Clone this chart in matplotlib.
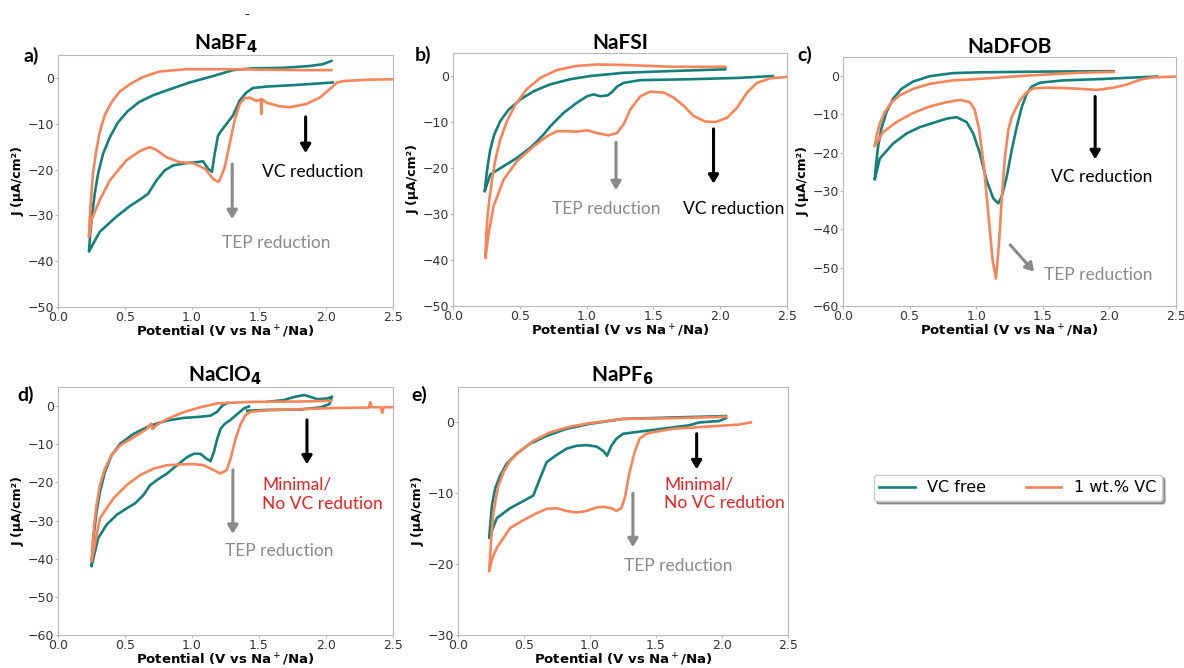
# Cyclic voltammetry of TEP electrolytes with / without VC additive
import numpy as np
import matplotlib.pyplot as plt
from matplotlib.ticker import MultipleLocator

TEAL = '#13807c'
ORANGE = '#f7855a'

# ---- a) NaBF4 ----
a_free_v = [2.05, 1.80, 1.555, 1.455, 1.405, 1.355, 1.306, 1.256, 1.219, 1.194, 1.169, 1.149, 1.119, 1.082,
            1.032, 0.958, 0.858, 0.796, 0.734, 0.672, 0.609, 0.535, 0.435, 0.311, 0.231,
            0.241, 0.256, 0.274, 0.299, 0.336, 0.386, 0.448, 0.522, 0.609, 0.709, 0.833, 0.983, 1.157, 1.306,
            1.455, 1.679, 1.878, 1.978, 2.040]
a_free_j = [-1.0, -1.5, -1.9, -2.2, -3.2, -5.0, -8.2, -10.1, -11.5, -12.6, -16.6, -20.5, -19.8, -18.2,
            -18.4, -18.6, -19.1, -20.2, -22.4, -25.3, -26.6, -28.0, -30.3, -33.6, -37.9,
            -33.9, -29.6, -25.3, -20.9, -16.6, -13.0, -9.7, -7.2, -5.2, -3.8, -2.5, -1.0, 0.4, 1.7,
            2.1, 2.2, 2.6, 3.0, 3.7]
a_vc_v = [2.5, 2.30, 2.127, 2.082, 2.027, 1.953, 1.853, 1.729, 1.654, 1.555, 1.530, 1.520, 1.517, 1.514, 1.480,
          1.430, 1.393, 1.356, 1.318, 1.281, 1.244, 1.206, 1.194, 1.157, 1.095, 1.007, 0.908, 0.808, 0.734,
          0.684, 0.609, 0.510, 0.386, 0.311, 0.249, 0.231,
          0.236, 0.246, 0.261, 0.286, 0.311, 0.348, 0.398, 0.460, 0.535, 0.634, 0.759, 0.958, 1.306, 1.803, 2.040]
a_vc_j = [-0.3, -0.4, -0.7, -1.0, -2.5, -4.3, -5.7, -6.4, -6.2, -5.4, -4.8, -4.6, -7.9, -4.7, -5.0,
          -4.3, -4.4, -5.7, -9.3, -14.4, -19.5, -22.4, -22.7, -22.0, -19.8, -18.6, -18.4, -17.3, -15.7,
          -15.1, -16.0, -18.0, -22.4, -26.7, -31.0, -34.7,
          -31.0, -26.7, -20.9, -15.8, -11.9, -8.2, -5.4, -3.0, -1.4, 0.2, 1.4, 1.9, 1.9, 1.7, 1.7]

# ---- b) NaFSI ----
b_free_v = [2.395, 2.151, 1.776, 1.402, 1.277, 1.228, 1.190, 1.158, 1.103, 1.053, 1.003, 0.928, 0.828, 0.729,
            0.679, 0.629, 0.579, 0.479, 0.379, 0.279, 0.237,
            0.247, 0.259, 0.279, 0.309, 0.354, 0.417, 0.504, 0.604, 0.729, 0.878, 1.028, 1.277, 1.652, 2.038]
b_free_j = [0.0, -0.4, -0.7, -0.9, -1.5, -2.3, -3.5, -4.2, -4.4, -4.0, -4.4, -5.8, -8.0, -10.9,
            -12.7, -14.2, -15.6, -17.8, -19.6, -21.4, -25.1,
            -22.5, -19.6, -16.0, -12.7, -9.8, -7.3, -5.1, -3.3, -1.8, -0.7, 0.0, 0.7, 1.1, 1.45]
b_vc_v = [2.5, 2.375, 2.275, 2.201, 2.126, 2.051, 1.964, 1.889, 1.801, 1.727, 1.652, 1.577, 1.477, 1.402,
          1.327, 1.277, 1.228, 1.165, 1.078, 1.003, 0.928, 0.853, 0.778, 0.704, 0.604, 0.479, 0.379, 0.304,
          0.267, 0.242,
          0.249, 0.259, 0.272, 0.292, 0.317, 0.354, 0.404, 0.467, 0.554, 0.654, 0.778, 0.928, 1.078, 1.277,
          1.652, 2.038]
b_vc_j = [-0.2, -0.5, -1.5, -3.6, -6.9, -9.1, -10.0, -9.9, -8.7, -6.5, -4.7, -3.6, -3.4, -4.4,
          -7.3, -10.5, -12.4, -12.9, -12.4, -11.8, -12.1, -12.0, -12.0, -13.1, -15.3, -18.5, -22.5, -28.3,
          -34.2, -39.6,
          -34.2, -30.5, -26.9, -22.5, -18.2, -13.8, -9.8, -6.2, -2.8, -0.4, 1.3, 2.2, 2.5, 2.4,
          2.0, 2.0]

# ---- c) NaDFOB ----
c_free_v = [2.357, 2.157, 1.906, 1.655, 1.479, 1.417, 1.379, 1.342, 1.304, 1.266, 1.229, 1.191, 1.166, 1.128,
            1.078, 1.028, 0.978, 0.928, 0.853, 0.777, 0.677, 0.577, 0.476, 0.376, 0.276, 0.238,
            0.246, 0.263, 0.288, 0.326, 0.376, 0.439, 0.527, 0.652, 0.827, 1.028, 1.530, 2.031]
c_free_j = [-0.1, -0.4, -0.8, -1.1, -1.7, -2.7, -4.6, -8.1, -13.3, -19.4, -26.3, -31.5, -33.2, -31.9,
            -27.2, -20.2, -15.0, -12.0, -10.7, -11.1, -12.2, -13.3, -15.0, -17.6, -21.5, -27.0,
            -23.7, -18.5, -13.7, -9.4, -5.9, -3.3, -1.4, 0.0, 0.8, 1.0, 1.2, 1.3]
c_vc_v = [2.5, 2.332, 2.232, 2.131, 2.031, 1.906, 1.780, 1.655, 1.530, 1.429, 1.379, 1.329, 1.291, 1.266,
          1.241, 1.216, 1.191, 1.171, 1.148, 1.123, 1.091, 1.058, 1.023, 0.990, 0.953, 0.878, 0.777, 0.652,
          0.527, 0.401, 0.301, 0.238,
          0.256, 0.276, 0.313, 0.364, 0.426, 0.527, 0.652, 0.827, 1.028, 1.404, 1.780, 2.031]
c_vc_j = [-0.1, -0.3, -0.9, -2.2, -3.0, -3.6, -3.3, -3.1, -3.0, -3.2, -4.2, -6.3, -8.9, -10.7,
          -14.1, -21.1, -32.4, -43.7, -52.8, -48.0, -35.9, -23.7, -14.1, -8.9, -6.8, -6.2, -6.8, -7.9,
          -9.6, -12.0, -14.6, -18.3,
          -15.0, -12.4, -9.4, -6.8, -5.0, -3.3, -2.0, -1.1, -0.7, 0.2, 0.9, 1.1]

# ---- d) NaClO4 ---- (VC free trace is recorded in two pieces, nan = gap)
d_free_v = [1.425, 1.388, 1.338, 1.288, 1.243, 1.213, 1.188, 1.163, 1.138, 1.108, 1.063, 1.013, 0.963, 0.888,
            0.813, 0.738, 0.688, 0.638, 0.575, 0.513, 0.438, 0.363, 0.300, 0.250,
            0.258, 0.270, 0.288, 0.313, 0.350, 0.400, 0.463, 0.563, 0.688, 0.813, 0.938, 1.063, 1.138, 1.188,
            1.225, 1.263,
            np.nan,
            1.413, 1.563, 1.813, 1.963, 2.025, 2.045, 2.013, 1.938, 1.838, 1.763, 1.688, 1.563]
d_free_j = [-0.1, -0.6, -2.1, -3.6, -4.7, -6.0, -8.6, -12.1, -14.4, -13.8, -12.5, -12.5, -13.4, -15.5,
            -17.7, -19.4, -20.7, -23.3, -25.5, -26.8, -28.5, -31.1, -34.6, -42.0,
            -38.1, -32.9, -27.7, -22.5, -17.3, -12.9, -9.9, -7.3, -5.1, -3.8, -3.1, -2.8, -2.5, -1.5,
            0.1, 0.8,
            np.nan,
            -1.2, -1.0, -0.9, -0.3, 0.5, 2.5, 2.0, 1.8, 2.9, 2.4, 1.6, 1.1]
d_vc_v = [2.5, 2.43, 2.42, 2.41, 2.34, 2.33, 2.32, 2.063, 1.813, 1.563, 1.438, 1.40, 1.363, 1.325, 1.288,
          1.258, 1.213, 1.163, 1.088, 1.013, 0.913, 0.813, 0.713, 0.613, 0.513, 0.413, 0.313, 0.250,
          0.258, 0.270, 0.288, 0.313, 0.350, 0.400, 0.463, 0.563, 0.663, 0.695, 0.705, 0.738, 0.813, 0.938,
          1.063, 1.188, 1.438, 1.813, 2.038]
d_vc_j = [-0.3, -0.3, -1.8, -0.3, -0.3, 1.0, -0.4, -0.5, -0.8, -1.1, -1.5, -2.3, -4.7, -8.6, -13.8,
          -16.8, -17.7, -16.8, -15.5, -15.2, -15.3, -15.5, -16.4, -18.1, -20.7, -24.2, -29.4, -40.7,
          -36.3, -31.1, -25.9, -20.7, -16.4, -12.9, -10.3, -8.2, -6.0, -4.6, -6.0, -4.9, -3.4, -1.6,
          -0.3, 0.7, 1.1, 1.2, 1.4]

# ---- e) NaPF6 ----
e_free_v = [2.030, 1.979, 1.828, 1.753, 1.627, 1.502, 1.376, 1.250, 1.200, 1.162, 1.129, 1.099, 1.049, 0.973,
            0.898, 0.822, 0.747, 0.672, 0.621, 0.571, 0.495, 0.395, 0.294, 0.236,
            0.244, 0.257, 0.282, 0.319, 0.370, 0.445, 0.546, 0.672, 0.822, 0.998, 1.250, 1.627, 2.030]
e_free_j = [0.6, 0.2, 0.0, -0.4, -0.7, -1.0, -1.3, -1.6, -2.3, -3.3, -4.7, -4.0, -3.4, -3.2,
            -3.3, -3.7, -4.6, -5.6, -7.9, -10.3, -11.1, -12.1, -13.5, -16.3,
            -14.5, -11.7, -9.3, -7.5, -5.8, -4.4, -3.0, -1.9, -0.9, -0.2, 0.5, 0.7, 0.9]
e_vc_v = [2.218, 2.130, 1.879, 1.627, 1.502, 1.426, 1.376, 1.338, 1.300, 1.263, 1.237, 1.200, 1.162, 1.099,
          1.049, 0.973, 0.898, 0.822, 0.747, 0.672, 0.596, 0.495, 0.395, 0.294, 0.257, 0.236,
          0.244, 0.252, 0.264, 0.282, 0.307, 0.345, 0.395, 0.470, 0.571, 0.697, 0.848, 0.998, 1.250, 1.627, 2.030]
e_vc_j = [0.0, -0.3, -0.6, -0.9, -1.3, -1.6, -2.3, -4.2, -7.0, -10.7, -12.1, -12.5, -12.1, -11.9,
          -12.0, -12.5, -12.7, -12.5, -12.1, -12.2, -12.8, -13.8, -14.9, -17.7, -19.3, -21.0,
          -18.7, -16.3, -13.5, -11.2, -8.9, -7.0, -5.4, -4.0, -2.6, -1.4, -0.6, -0.1, 0.5, 0.6, 0.8]

titles = ['NaBF$_\\mathbf{4}$', 'NaFSI', 'NaDFOB', 'NaClO$_\\mathbf{4}$', 'NaPF$_\\mathbf{6}$']
letters = ['a)', 'b)', 'c)', 'd)', 'e)']
ylims = [(-50, 5), (-50, 5), (-60, 5), (-60, 5), (-30, 5)]
curves = [(a_free_v, a_free_j, a_vc_v, a_vc_j),
          (b_free_v, b_free_j, b_vc_v, b_vc_j),
          (c_free_v, c_free_j, c_vc_v, c_vc_j),
          (d_free_v, d_free_j, d_vc_v, d_vc_j),
          (e_free_v, e_free_j, e_vc_v, e_vc_j)]

# axes boxes in pixels (left, top, right, bottom)
boxes = [(58, 55, 393, 307), (453, 53, 787, 306), (843, 57, 1176, 306),
         (58, 387, 393, 635), (458, 387, 788, 635)]
# panel letter anchor (right edge x, centre y) in pixels
letter_pos = [(39, 56), (431, 55), (812, 55), (34, 395), (427, 395)]

W, H = 1184, 668
fig = plt.figure(figsize=(W / 100, H / 100), dpi=100)
TXT = 'Lato'

axes = []
for i, (l, t, r, b) in enumerate(boxes):
    ax = fig.add_axes([l / W, 1 - b / H, (r - l) / W, (b - t) / H])
    fv, fj, vv, vj = curves[i]
    ln1, = ax.plot(fv, fj, color=TEAL, lw=1.9, label='VC free', solid_joinstyle='round')
    ln2, = ax.plot(vv, vj, color=ORANGE, lw=1.9, label='1 wt.% VC', solid_joinstyle='round')
    ax.set_xlim(0, 2.5)
    ax.set_ylim(*ylims[i])
    ax.yaxis.set_major_locator(MultipleLocator(10))
    ax.set_xticks([0, 0.5, 1.0, 1.5, 2.0, 2.5])
    ax.set_xticklabels(['0.0', '0.5', '1.0', '1.5', '2.0', '2.5'])
    for s in ax.spines.values():
        s.set_color('#b8b8b8')
    ax.tick_params(length=2, color='#b8b8b8', labelsize=9, labelcolor='#333333', pad=1)
    ax.set_xlabel('Potential (V vs Na$^+$/Na)', fontsize=9.5, fontweight='bold', labelpad=0)
    ax.set_ylabel('J (µA/cm²)', fontsize=9, fontweight='bold', labelpad=2)
    ax.set_title(titles[i], fontsize=15, fontweight='bold', family=TXT, pad=3)
    lx, ly = letter_pos[i]
    fig.text(lx / W, 1 - ly / H, letters[i], fontsize=14, fontweight='bold',
             family=TXT, ha='right', va='center')
    axes.append(ax)

fig.text(247 / W, 1 - 14 / H, '–', fontsize=7, ha='center', va='center')

def arrow(ax, x0, y0, x1, y1, c):
    ax.annotate('', xy=(x1, y1), xytext=(x0, y0),
                arrowprops=dict(arrowstyle='-|>,head_width=0.3,head_length=0.5', color=c, lw=2.2))

GREY = '#8a8a8a'
RED = '#f02020'
fs = 12.5

# a)
arrow(axes[0], 1.848, -7.9, 1.848, -17.0, 'black')
axes[0].text(1.90, -20.5, 'VC reduction', ha='center', va='center', fontsize=fs, family=TXT)
arrow(axes[0], 1.30, -18.2, 1.30, -31.4, GREY)
axes[0].text(1.63, -36.0, 'TEP reduction', ha='center', va='center', fontsize=fs, family=TXT, color=GREY)
# b)
arrow(axes[1], 1.22, -13.8, 1.22, -25.4, GREY)
axes[1].text(1.15, -28.9, 'TEP reduction', ha='center', va='center', fontsize=fs, family=TXT, color=GREY)
arrow(axes[1], 1.95, -10.9, 1.95, -24.0, 'black')
axes[1].text(2.10, -28.9, 'VC reduction', ha='center', va='center', fontsize=fs, family=TXT)
# c)
arrow(axes[2], 1.893, -4.6, 1.893, -22.4, 'black')
axes[2].text(1.94, -26.3, 'VC reduction', ha='center', va='center', fontsize=fs, family=TXT)
arrow(axes[2], 1.241, -43.5, 1.449, -51.6, GREY)
axes[2].text(1.92, -51.9, 'TEP reduction', ha='center', va='center', fontsize=fs, family=TXT, color=GREY)
# d)
arrow(axes[3], 1.858, -2.9, 1.858, -16.0, 'black')
axes[3].text(1.525, -23.1, 'Minimal/\nNo VC redution', ha='left', va='center', fontsize=fs,
             family=TXT, color=RED, linespacing=1.2)
arrow(axes[3], 1.305, -16.0, 1.305, -34.2, GREY)
axes[3].text(1.65, -38.0, 'TEP reduction', ha='center', va='center', fontsize=fs, family=TXT, color=GREY)
# e)
arrow(axes[4], 1.808, -1.2, 1.808, -7.0, 'black')
axes[4].text(1.564, -10.1, 'Minimal/\nNo VC redution', ha='left', va='center', fontsize=fs,
             family=TXT, color=RED, linespacing=1.2)
arrow(axes[4], 1.325, -9.6, 1.325, -18.0, GREY)
axes[4].text(1.665, -20.3, 'TEP reduction', ha='center', va='center', fontsize=fs, family=TXT, color=GREY)

fig.legend([ln1, ln2], ['VC free', '1 wt.% VC'], ncol=2, loc='center',
           bbox_to_anchor=(1018 / W, 1 - 488 / H), fontsize=11.5, frameon=True,
           fancybox=True, shadow=True, handlelength=2.2, columnspacing=2.5, borderpad=0.35)

fig.savefig('out.png', dpi=100)
